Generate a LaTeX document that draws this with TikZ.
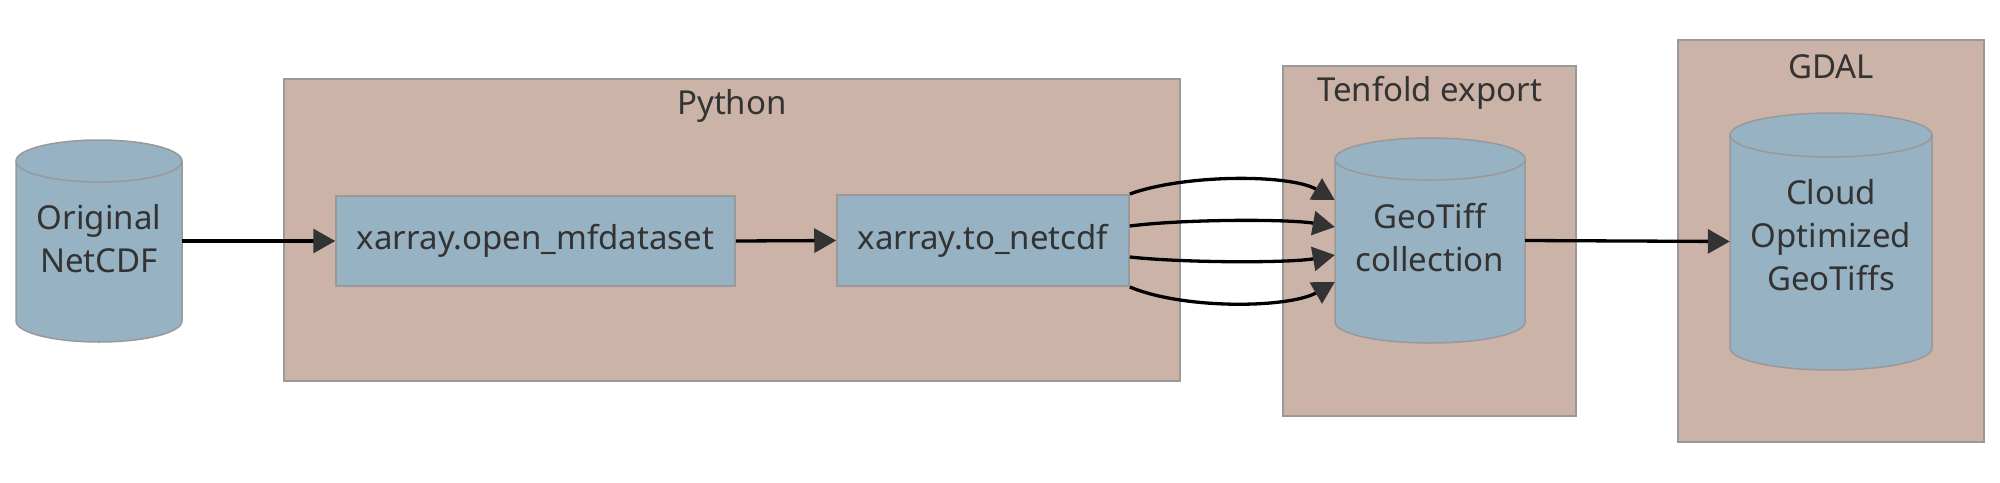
\documentclass[tikz,border=0pt]{standalone}
\usepackage{fontspec}
\setmainfont{Noto Sans}
\usetikzlibrary{arrows.meta,calc}
\definecolor{clfill}{HTML}{CCB3A8}
\definecolor{ndfill}{HTML}{97B2C2}
\definecolor{bord}{HTML}{999999}
\definecolor{txt}{HTML}{333333}
\definecolor{tipc}{HTML}{333333}
\tikzset{
  cluster/.style={rectangle, draw=bord, fill=clfill, line width=1.5pt, inner sep=0pt},
  cltitle/.style={text=txt, inner sep=0pt, font=\fontsize{33}{43}\selectfont},
  procbox/.style={rectangle, draw=bord, fill=ndfill, line width=1.5pt, text=txt, inner sep=0pt, font=\fontsize{33}{43}\selectfont},
  cylbox/.style={rectangle, draw=none, inner sep=0pt},
  cyltext/.style={text=txt, inner sep=0pt, align=center, font=\fontsize{33}{43}\selectfont},
  cylstyle/.style={draw=bord, fill=ndfill, line width=1.5pt},
  conn/.style={draw=black, line width=3.3pt, -{Triangle[length=22pt,width=24pt,color=tipc]}},
}
\newcommand\drawcyl[5]{%
  \pgfmathsetmacro\cylrx{(#3-#1)/2}%
  \filldraw[cylstyle] (#1,#2+#5) -- (#1,#4-#5)
    arc[start angle=180,end angle=360,x radius=\cylrx pt,y radius=#5pt]
    -- (#3,#2+#5)
    arc[start angle=0,end angle=180,x radius=\cylrx pt,y radius=#5pt] -- cycle;
  \draw[cylstyle, fill=none] (#1,#2+#5)
    arc[start angle=180,end angle=360,x radius=\cylrx pt,y radius=#5pt];
}
\begin{document}
\begin{tikzpicture}[x=1pt,y=-1pt]
\useasboundingbox (0,0) rectangle (2000,482);
% clusters
\node[cluster, minimum width=896pt, minimum height=302pt] (python) at (732,230) {};
\node[cltitle] (pythont) at (732,106) {Python};
\node[cluster, minimum width=293pt, minimum height=350pt] (tenfold) at (1429.5,241) {};
\node[cltitle] (tenfoldt) at (1429.5,93) {Tenfold export};
\node[cluster, minimum width=306pt, minimum height=402pt] (gdal) at (1831,241) {};
\node[cltitle] (gdalt) at (1831,67) {GDAL};
% cylinders
\drawcyl{16}{140}{182}{342}{21}
\drawcyl{1335}{138}{1525}{343}{21}
\drawcyl{1730}{113}{1932}{370}{22}
\node[cylbox, minimum width=166pt, minimum height=202pt] (orig) at (99,241) {};
\node[cyltext] (origt) at (99,238.5) {Original\\NetCDF};
\node[cylbox, minimum width=190pt, minimum height=205pt] (geotiff) at (1430,240.5) {};
\node[cyltext] (geotifft) at (1430,237.5) {GeoTiff\\collection};
\node[cylbox, minimum width=202pt, minimum height=257pt] (cog) at (1831,241.5) {};
\node[cyltext] (cogt) at (1831,235) {Cloud\\Optimized\\GeoTiffs};
% process boxes
\node[procbox, minimum width=399pt, minimum height=90pt] (openmf) at (535.5,241) {xarray.open\_mfdataset};
\node[procbox, minimum width=292pt, minimum height=91pt] (tonc) at (983,240.5) {xarray.to\_netcdf};
% connectors
\draw[conn] (orig.east) -- (openmf.west);
\draw[conn] (openmf.east) -- (tonc.west);
\draw[conn] ($(tonc.east)+(0,-46.5)$) .. controls (1185,174) and (1290,174) .. ($(geotiff.west)+(0,-40.5)$);
\draw[conn] ($(tonc.east)+(0,-14.5)$) .. controls (1185,219) and (1290,219) .. ($(geotiff.west)+(0,-13.5)$);
\draw[conn] ($(tonc.east)+(0,16.5)$) .. controls (1185,263) and (1290,263) .. ($(geotiff.west)+(0,14.5)$);
\draw[conn] ($(tonc.east)+(0,46.5)$) .. controls (1185,310) and (1290,308) .. ($(geotiff.west)+(0,41.5)$);
\draw[conn] (geotiff.east) -- (cog.west);
\end{tikzpicture}
\end{document}
